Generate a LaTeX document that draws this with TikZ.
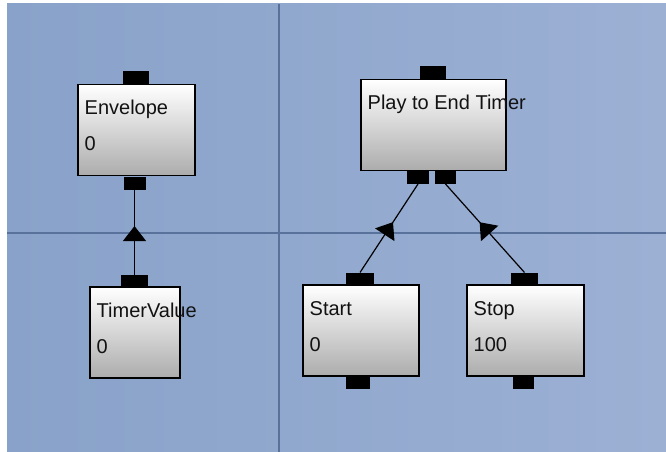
\documentclass[tikz,border=0pt]{standalone}
\usepackage{fontspec}
\setmainfont{Liberation Sans}
\usetikzlibrary{arrows.meta,decorations.markings}
\definecolor{bgleft}{RGB}{137,162,201}
\definecolor{bgright}{RGB}{156,176,212}
\definecolor{gridline}{RGB}{88,114,156}

\begin{document}
\begin{tikzpicture}[x=1pt,y=-1pt,font=\fontsize{20}{24}\selectfont]
\tikzstyle{block}=[draw=black,line width=1.4pt,top color=white,bottom color=gray!65,minimum height=91pt,inner sep=0,outer sep=0]
\tikzstyle{port}=[fill=black,minimum height=13pt,inner sep=0,outer sep=0]
\tikzstyle{txt}=[inner sep=0,anchor=base west,text=black!93]
\tikzstyle{link}=[draw,line width=1.2pt,postaction={decorate},decoration={markings,mark=at position 0.57 with {\arrow{Triangle[width=23pt,length=15pt]}}}]
\useasboundingbox (0,0) rectangle (666,452);
\fill[white] (0,0) rectangle (666,452);
\shade[left color=bgleft,right color=bgright] (7,4) rectangle (666,452);
\draw[gridline,line width=2pt] (279,4) -- (279,452);
\draw[gridline,line width=2pt] (7,233) -- (666,233);
% blocks
\foreach \n/\x/\y/\w in {env/136.5/130/117,tv/135/332.5/90,pet/433.5/125/145,start/361/330.5/116,stop/525.5/330.5/117}{
\node[block,minimum width=\w] (\n) at (\x,\y) {};
};
% ports
\foreach \n/\x/\y/\w in {env-in/136/77.5/26,env-out/134.5/183/22,tv-in/134.5/281/27,pet-in/433/72.5/26,pet-out1/418/177.5/22,pet-out2/445.5/177.5/21,start-in/360/279/28,start-out/358/382.5/24,stop-in/524.5/279/27,stop-out/523.5/382.5/21}{
\node[port,minimum width=\w] (\n) at (\x,\y) {};
};
% names and values
\foreach \n/\t in {env/Envelope,tv/TimerValue,pet/Play to End Timer,start/Start,stop/Stop}{
\node[txt] (\n-name) at ([xshift=6.5pt,yshift=-30pt]\n.north west) {\t};
};
\foreach \n/\v in {env/0,tv/0,start/0,stop/100}{
\node[txt] (\n-val) at ([xshift=6.5pt,yshift=-66pt]\n.north west) {\v};
};
\draw[link] (tv-in.north) -- (env-out.south);
\draw[link] (start-in.north) -- (pet-out1.south);
\draw[link] (stop-in.north) -- (pet-out2.south);
\end{tikzpicture}
\end{document}
